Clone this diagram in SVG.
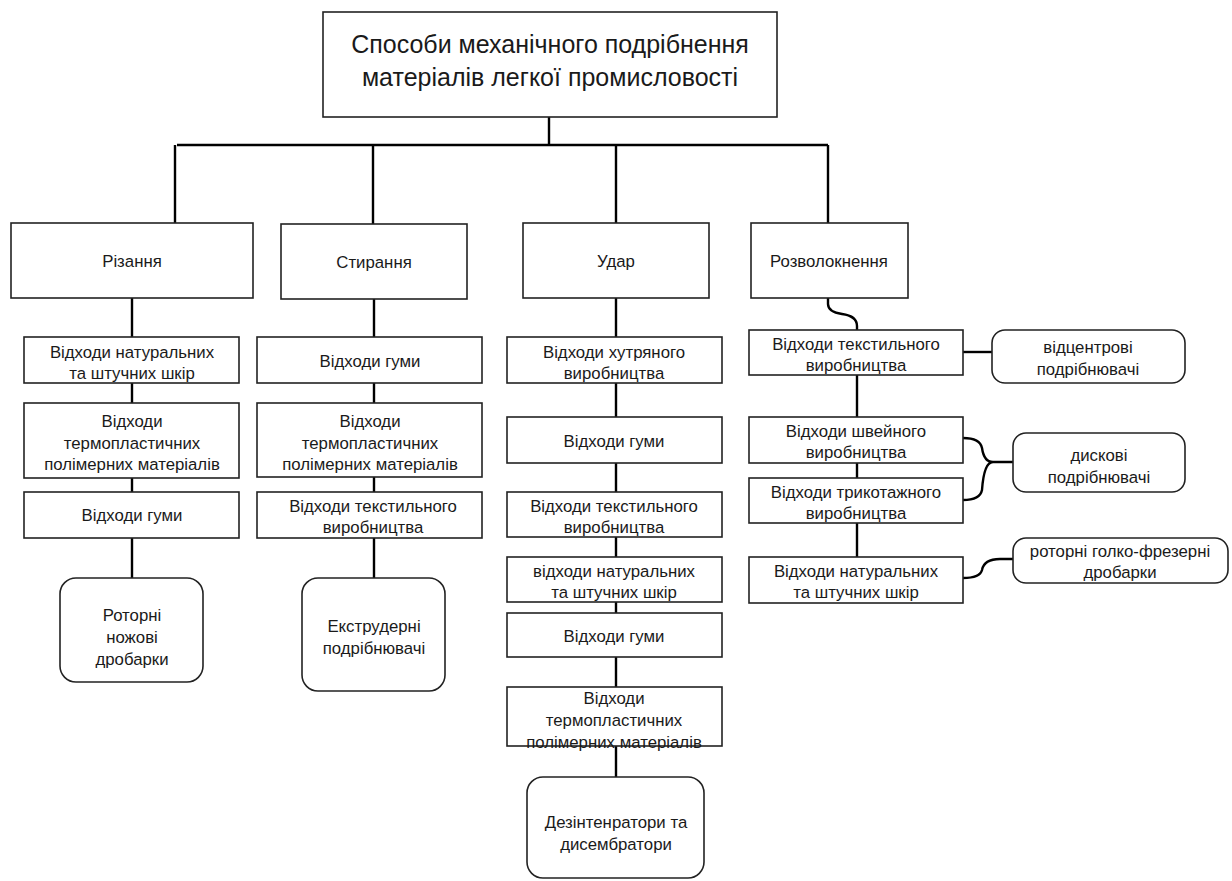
<svg xmlns="http://www.w3.org/2000/svg" width="1232" height="881" viewBox="0 0 1232 881">
<style>
.b{fill:#fff;stroke:#222;stroke-width:1.6}
.t{font-family:"Liberation Sans",Arial,sans-serif;font-size:16.8px;fill:#1a1a1a;text-anchor:middle}
.tt{font-family:"Liberation Sans",Arial,sans-serif;font-size:25px;fill:#1a1a1a;text-anchor:middle}
.c{fill:none;stroke:#000;stroke-width:2.4}
</style>
<rect width="1232" height="881" fill="#fff"/>
<g id="connectors">
<path class="c" d="M549 117V145M177 145H828M175 145V223M373 145V224M616 145V223M828 145V223"/>
<path class="c" d="M132 298V578"/>
<path class="c" d="M374 299V578"/>
<path class="c" d="M616 298V777"/>
<path class="c" d="M828 298V304Q828 312 842 314Q857 316 857 326V330"/>
<path class="c" d="M857 375V557"/>
<path class="c" d="M963 352H992"/>
<path class="c" d="M963 438Q980 438 982 448Q984 462 993 462H1013M963 500Q980 500 982 490Q984 462 993 462"/>
<path class="c" d="M963 578Q980 578 982 570Q984 559 1000 559H1013"/>
</g>
<g id="title"><rect class="b" x="323" y="12" width="454" height="105"/>
<text class="tt" x="550" y="53">Способи механічного подрібнення</text>
<text class="tt" x="550" y="86">матеріалів легкої промисловості</text></g>
<g id="rizannia"><rect class="b" x="11" y="223" width="242" height="75"/><text class="t" x="132" y="267">Різання</text></g>
<g id="styrannia"><rect class="b" x="281" y="224" width="186" height="75"/><text class="t" x="374" y="268">Стирання</text></g>
<g id="udar"><rect class="b" x="523" y="223" width="186" height="75"/><text class="t" x="616" y="267">Удар</text></g>
<g id="rozvoloknennia"><rect class="b" x="751" y="223" width="157" height="75"/><text class="t" x="829" y="267">Розволокнення</text></g>

<g id="c1b1"><rect class="b" x="24" y="337" width="215" height="46"/><text class="t" x="132" y="358">Відходи натуральних</text><text class="t" x="132" y="379">та штучних шкір</text></g>
<g id="c1b2"><rect class="b" x="24" y="403" width="215" height="75"/><text class="t" x="132" y="427">Відходи</text><text class="t" x="132" y="449">термопластичних</text><text class="t" x="132" y="470">полімерних матеріалів</text></g>
<g id="c1b3"><rect class="b" x="24" y="492" width="215" height="46"/><text class="t" x="132" y="521">Відходи гуми</text></g>
<g id="c1r"><rect class="b" x="60" y="578" width="143" height="104" rx="16"/><text class="t" x="132" y="621">Роторні</text><text class="t" x="132" y="643">ножові</text><text class="t" x="132" y="665">дробарки</text></g>

<g id="c2b1"><rect class="b" x="257" y="337" width="225" height="46"/><text class="t" x="370" y="367">Відходи гуми</text></g>
<g id="c2b2"><rect class="b" x="257" y="403" width="225" height="74"/><text class="t" x="370" y="427">Відходи</text><text class="t" x="370" y="449">термопластичних</text><text class="t" x="370" y="470">полімерних матеріалів</text></g>
<g id="c2b3"><rect class="b" x="257" y="492" width="225" height="46"/><text class="t" x="373" y="512">Відходи текстильного</text><text class="t" x="373" y="533">виробництва</text></g>
<g id="c2r"><rect class="b" x="302" y="578" width="143" height="113" rx="16"/><text class="t" x="374" y="632">Екструдерні</text><text class="t" x="374" y="654">подрібнювачі</text></g>

<g id="c3b1"><rect class="b" x="507" y="337" width="215" height="46"/><text class="t" x="614" y="358">Відходи хутряного</text><text class="t" x="614" y="379">виробництва</text></g>
<g id="c3b2"><rect class="b" x="507" y="417" width="215" height="46"/><text class="t" x="614" y="447">Відходи гуми</text></g>
<g id="c3b3"><rect class="b" x="507" y="492" width="215" height="45"/><text class="t" x="614" y="512">Відходи текстильного</text><text class="t" x="614" y="533">виробництва</text></g>
<g id="c3b4"><rect class="b" x="507" y="557" width="215" height="45"/><text class="t" x="614" y="577">відходи натуральних</text><text class="t" x="614" y="598">та штучних шкір</text></g>
<g id="c3b5"><rect class="b" x="507" y="613" width="215" height="44"/><text class="t" x="614" y="642">Відходи гуми</text></g>
<g id="c3b6"><rect class="b" x="507" y="687" width="215" height="59"/><text class="t" x="614" y="704">Відходи</text><text class="t" x="614" y="726">термопластичних</text><text class="t" x="614" y="748">полімерних матеріалів</text></g>
<g id="c3r"><rect class="b" x="527" y="777" width="177" height="101" rx="16"/><text class="t" x="616" y="828">Дезінтенратори та</text><text class="t" x="616" y="850">дисембратори</text></g>

<g id="c4b1"><rect class="b" x="749" y="330" width="214" height="45"/><text class="t" x="856" y="350">Відходи текстильного</text><text class="t" x="856" y="371">виробництва</text></g>
<g id="c4r1"><rect class="b" x="992" y="330" width="193" height="53" rx="13"/><text class="t" x="1088" y="353">відцентрові</text><text class="t" x="1088" y="375">подрібнювачі</text></g>
<g id="c4b2"><rect class="b" x="749" y="417" width="214" height="46"/><text class="t" x="856" y="437">Відходи швейного</text><text class="t" x="856" y="458">виробництва</text></g>
<g id="c4r2"><rect class="b" x="1013" y="433" width="172" height="59" rx="13"/><text class="t" x="1099" y="461">дискові</text><text class="t" x="1099" y="483">подрібнювачі</text></g>
<g id="c4b3"><rect class="b" x="749" y="478" width="214" height="45"/><text class="t" x="856" y="498">Відходи трикотажного</text><text class="t" x="856" y="519">виробництва</text></g>
<g id="c4b4"><rect class="b" x="749" y="557" width="214" height="46"/><text class="t" x="856" y="577">Відходи натуральних</text><text class="t" x="856" y="598">та штучних шкір</text></g>
<g id="c4r3"><rect class="b" x="1013" y="538" width="215" height="45" rx="13"/><text class="t" x="1120" y="557">роторні голко-фрезерні</text><text class="t" x="1120" y="578">дробарки</text></g>
</svg>
